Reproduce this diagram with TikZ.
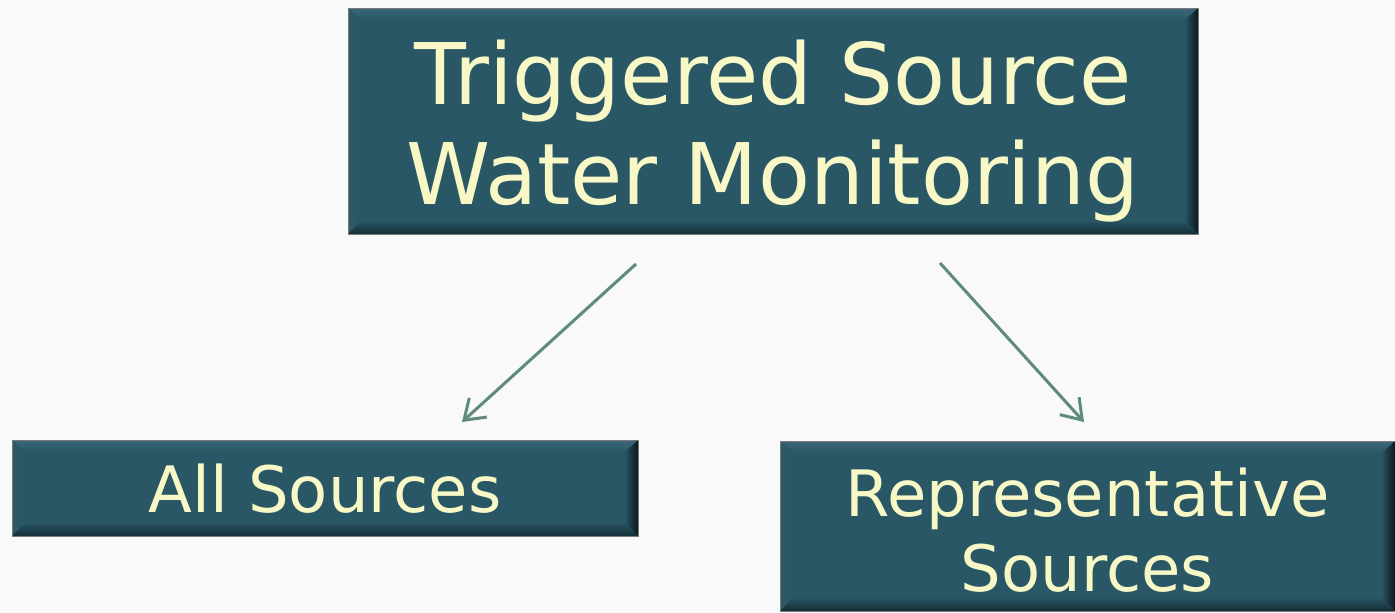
\documentclass[tikz,border=0pt]{standalone}
\usepackage{fontspec}
\setmainfont{DejaVu Sans}
\usetikzlibrary{arrows.meta}
\definecolor{bg}{HTML}{F9F9F9}
\definecolor{boxfill}{HTML}{2A5766}
\definecolor{boxtext}{HTML}{F8F8C6}
\definecolor{bevtopA}{HTML}{3A6676}
\definecolor{bevtopB}{HTML}{729FAD}
\definecolor{bevleft}{HTML}{2C5A69}
\definecolor{bevright}{HTML}{0C181D}
\definecolor{bevbot}{HTML}{142E37}
\definecolor{arrowcol}{HTML}{5E8A80}
\definecolor{edgecol}{HTML}{7A7A7A}
\tikzset{
  bevelbox/.style={draw=edgecol, line width=1pt, fill=boxfill, text=boxtext,
    align=center, inner sep=0pt,
    path picture={
      \coordinate (pnw) at (path picture bounding box.north west);
      \coordinate (pne) at (path picture bounding box.north east);
      \coordinate (psw) at (path picture bounding box.south west);
      \coordinate (pse) at (path picture bounding box.south east);
      \shade[top color=bevtopA, middle color=bevtopB, bottom color=boxfill] (pnw) -- (pne) -- ([shift={(-14pt,-13pt)}]pne) -- ([shift={(14pt,-13pt)}]pnw) -- cycle;
      \shade[left color=bevleft, right color=boxfill] (pnw) -- ([shift={(14pt,-13pt)}]pnw) -- ([shift={(14pt,14pt)}]psw) -- (psw) -- cycle;
      \shade[top color=boxfill, bottom color=bevbot] (psw) -- ([shift={(14pt,14pt)}]psw) -- ([shift={(-14pt,14pt)}]pse) -- (pse) -- cycle;
      \shade[left color=boxfill, right color=bevright] (pne) -- (pse) -- ([shift={(-14pt,14pt)}]pse) -- ([shift={(-14pt,-13pt)}]pne) -- cycle;
    }},
  conn/.style={draw=arrowcol, line width=3pt, -{Straight Barb[length=19pt,width=26pt,line width=3pt]}}
}
\newcommand{\boxlines}[2]{\raisebox{#1}[0pt][0pt]{\begin{tabular}{@{}c@{}}#2\end{tabular}}}
\begin{document}
\begin{tikzpicture}[x=1pt,y=-1pt]
\fill[bg] (0,0) rectangle (1395,613);
\useasboundingbox (0,0) rectangle (1395,613);
\node[bevelbox, minimum width=850pt, minimum height=226pt, font=\fontsize{85}{100}\selectfont] (top) at (773,121) {\boxlines{-20pt}{Triggered Source\\Water Monitoring}};
\node[bevelbox, minimum width=626pt, minimum height=96pt, font=\fontsize{64}{75}\selectfont] (all) at (325,488) {\boxlines{-16pt}{All Sources}};
\node[bevelbox, minimum width=615pt, minimum height=170pt, font=\fontsize{64}{75}\selectfont] (rep) at (1087.5,526) {\boxlines{-19.5pt}{Representative\\Sources}};
\coordinate (a1s) at (636,264);
\coordinate (a1e) at (462,422);
\coordinate (a2s) at (940,263);
\coordinate (a2e) at (1084,422);
\draw[conn] (a1s) -- (a1e);
\draw[conn] (a2s) -- (a2e);
\end{tikzpicture}
\end{document}
